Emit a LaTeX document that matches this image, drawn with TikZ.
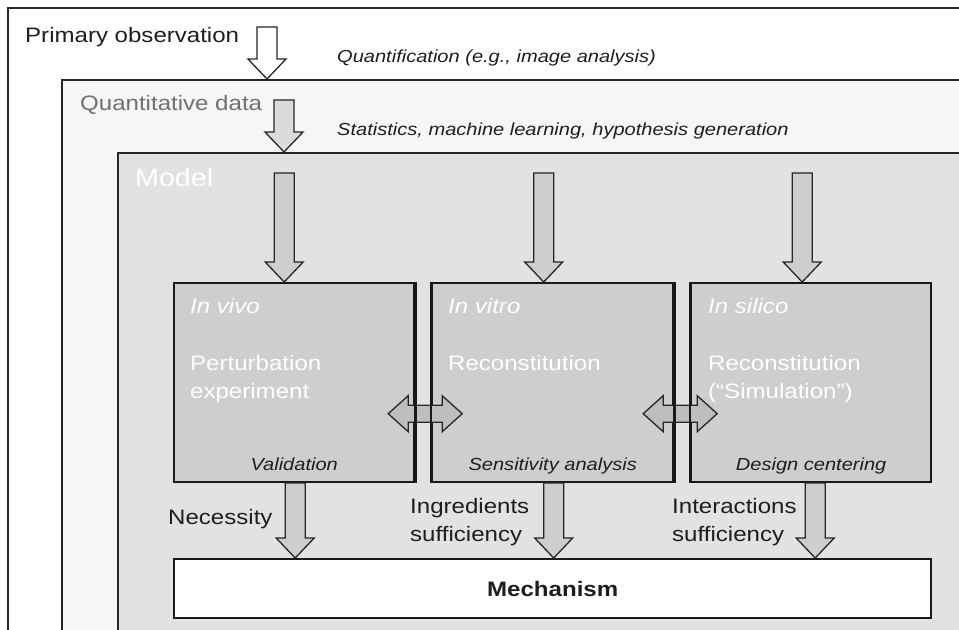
\documentclass[tikz,border=0pt]{standalone}
\usepackage{fontspec}
\setmainfont[FakeStretch=1.15]{Liberation Sans}
\usetikzlibrary{positioning,calc}
\definecolor{frameln}{RGB}{38,38,38}
\definecolor{datafill}{RGB}{246,246,246}
\definecolor{modelfill}{RGB}{226,226,226}
\definecolor{cellfill}{RGB}{206,206,206}
\definecolor{linkfill}{RGB}{190,190,190}
\definecolor{datatext}{RGB}{112,112,112}
\definecolor{ink}{RGB}{30,30,30}
\tikzset{
  layer/.style={draw=frameln,line width=2.2bp,fill=#1,anchor=north west,
    minimum width=1000bp,minimum height=700bp,inner sep=0pt},
  cell/.style={draw=black!90,line width=2.4bp,fill=cellfill,anchor=north west,
    minimum width=240bp,minimum height=199bp,inner sep=0pt},
  cell line/.style={draw=black!90,line width=2.4bp},
  big/.style={font=\fontsize{21}{28}\selectfont,text=#1,inner sep=0pt,align=left},
  big/.default=ink,
  note/.style={font=\fontsize{17.5}{21}\selectfont\itshape,text=#1,inner sep=0pt},
  note/.default=ink,
  % block arrows
  pics/downblock/.style 2 args={code={
    \draw[frameln,line width=1.3bp,fill=#2] (-10,-#1) -- (10,-#1) -- (10,-20) -- (19,-20)
      -- (0,0) -- (-19,-20) -- (-10,-20) -- cycle;
  }},
  pics/bothblock/.style={code={
    \draw[frameln,line width=1.3bp,fill=#1] (-37,0) -- (-17,-18) -- (-17,-8.5) -- (17,-8.5)
      -- (17,-18) -- (37,0) -- (17,18) -- (17,8.5) -- (-17,8.5) -- (-17,18) -- cycle;
  }},
  pics/bothblock/.default=linkfill,
}
\begin{document}
\begin{tikzpicture}[x=1bp,y=-1bp]
  \clip (0,0) rectangle (959,630);
  % nested layers
  \node[layer=white] (obs) at (7,7) {};
  \node[layer=datafill] (data) at (61,79) {};
  \node[layer=modelfill] (model) at (117,152) {};
  \node[big,anchor=base west] (obstxt) at ([shift={(18,36)}]obs.north west) {Primary observation};
  \node[note,anchor=base west] (quanttxt) at ([shift={(330,56)}]obs.north west) {Quantification (e.g., image analysis)};
  \node[big=datatext,anchor=base west] (datatxt) at ([shift={(19,32)}]data.north west) {Quantitative data};
  \node[note,anchor=base west] (stattxt) at ([shift={(276,57)}]data.north west) {Statistics, machine learning, hypothesis generation};
  \node[font=\fontsize{25}{28}\selectfont,text=white,inner sep=0pt,anchor=base west] (modeltxt)
    at ([shift={(18,35)}]model.north west) {Model};
  \pic at (267,79) {downblock={52}{white}};
  \pic at (284,152) {downblock={52}{black!14}};
  % three approaches
  \node[cell] (vivo) at (173,282) {};
  \node[cell,minimum width=241bp] (vitro) at (431,282) {};
  \node[cell] (silico) at (690,282) {};
  \foreach \b/\dx in {vivo/-10,vitro/-9,silico/-9}
    \pic at ([xshift=\dx bp]\b.north) {downblock={109}{cellfill}};
  \node[note=white,font=\fontsize{21}{28}\selectfont\itshape,anchor=base west] (vivoname) at ([shift={(17,31)}]vivo.north west) {In vivo};
  \node[note=white,font=\fontsize{21}{28}\selectfont\itshape,anchor=base west] (vitroname) at ([shift={(17,31)}]vitro.north west) {In vitro};
  \node[note=white,font=\fontsize{21}{28}\selectfont\itshape,anchor=base west] (siliconame) at ([shift={(18,31)}]silico.north west) {In silico};
  \node[big=white,anchor=north west] (vivotxt) at ([shift={(17,73)}]vivo.north west) {Perturbation\\experiment};
  \node[big=white,anchor=north west] (vitrotxt) at ([shift={(17,73)}]vitro.north west) {Reconstitution};
  \node[big=white,anchor=north west] (silicotxt) at ([shift={(18,73)}]silico.north west) {Reconstitution\\(“Simulation”)};
  \node[note,anchor=base] (vivonote) at ([yshift=13bp]vivo.south) {Validation};
  \node[note,anchor=base] (vitronote) at ([yshift=13bp]vitro.south) {Sensitivity analysis};
  \node[note,anchor=base] (siliconote) at ([yshift=13bp]silico.south) {Design centering};
  % exchange between approaches
  \coordinate (link1) at ($(vivo.east)!0.5!(vitro.west)+(2,31)$);
  \coordinate (link2) at ($(vitro.east)!0.5!(silico.west)+(-2,31)$);
  \pic at (link1) {bothblock};
  \pic at (link2) {bothblock};
  \draw[cell line] (vivo.north east) -- (vivo.south east) (vitro.north west) -- (vitro.south west)
    (vitro.north east) -- (vitro.south east) (silico.north west) -- (silico.south west);
  % mechanism
  \node[draw=black!90,line width=2.4bp,fill=white,anchor=north west,minimum width=757bp,
    minimum height=59bp,inner sep=0pt,font=\fontsize{21}{28}\selectfont\bfseries,text=ink] (mech) at (173,558) {Mechanism};
  \pic at ([xshift=1bp]vivo.south |- mech.north) {downblock={75}{cellfill}};
  \pic at ([xshift=1bp]vitro.south |- mech.north) {downblock={75}{cellfill}};
  \pic at ([xshift=4bp]silico.south |- mech.north) {downblock={75}{cellfill}};
  \node[big,anchor=base west] (needtxt) at (168,524) {Necessity};
  \node[big,anchor=north west] (ingtxt) at (410,498) {Ingredients\\sufficiency};
  \node[big,anchor=north west] (inttxt) at (672,498) {Interactions\\sufficiency};
\end{tikzpicture}
\end{document}
